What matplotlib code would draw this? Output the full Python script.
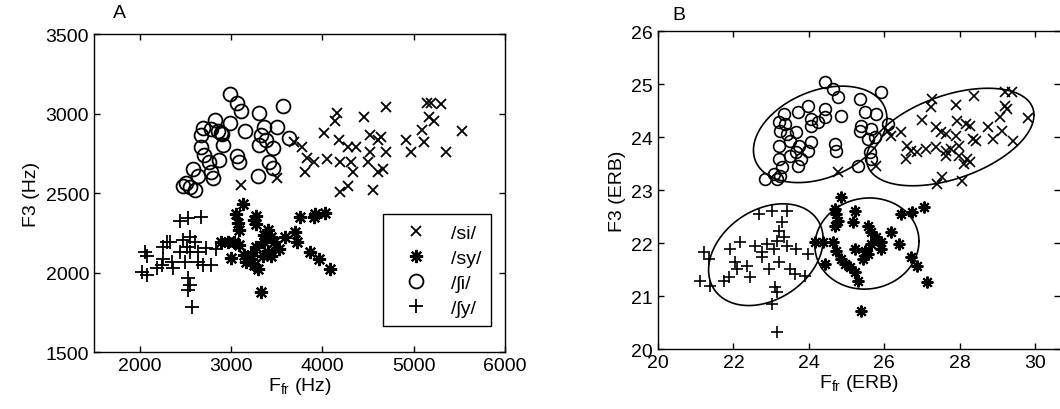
import numpy as np
import matplotlib
matplotlib.use("Agg")
import matplotlib.pyplot as plt

plt.rcParams["font.family"] = ["Liberation Sans", "DejaVu Sans"]
plt.rcParams["mathtext.fontset"] = "custom"
plt.rcParams["mathtext.rm"] = "Liberation Sans"
plt.rcParams["mathtext.it"] = "Liberation Sans"

# ---- Panel A data (Hz) ----
si_a_x = [4165, 4142, 4453, 4697, 5141, 5186, 5297, 5164, 5219, 5086, 5530, 4020,
          4187, 4276, 4364, 4520, 4609, 4642, 4919, 5108, 4697, 4975, 5352, 4520,
          3687, 3776, 3832, 3909, 4054, 4198, 4309, 4331, 4498, 4609, 4664, 3809,
          3499, 3110, 4198, 4276, 4553]
si_a_y = [3006, 2950, 2975, 3044, 3063, 3069, 3057, 2981, 2950, 2899, 2887, 2880,
          2836, 2792, 2792, 2868, 2836, 2855, 2836, 2818, 2755, 2761, 2761, 2761,
          2818, 2792, 2723, 2692, 2711, 2692, 2698, 2635, 2692, 2635, 2648, 2635,
          2597, 2553, 2509, 2541, 2516]

sy_a_x = [3132, 3055, 3077, 3088, 3276, 3276, 3254, 3410, 3443, 3476, 3365, 3410,
          3354, 3443, 3521, 2888, 2966, 3032, 3088, 2999, 3143, 3165, 3221, 3254,
          3299, 3276, 3698, 3720, 3754, 3909, 3920, 4031, 3865, 3965, 4087, 3332,
          3587, 3365, 3221]
sy_a_y = [2428, 2365, 2314, 2270, 2358, 2302, 2333, 2270, 2226, 2189, 2189, 2132,
          2101, 2101, 2145, 2195, 2195, 2189, 2176, 2094, 2113, 2069, 2082, 2050,
          2019, 2163, 2252, 2195, 2346, 2346, 2365, 2377, 2126, 2082, 2019, 1880,
          2226, 2239, 2113]

shi_a_x = [2988, 3065, 3110, 3565, 3310, 2821, 2988, 3155, 3365, 3500, 2688, 2666,
           2777, 2888, 3332, 3388, 3310, 3465, 3632, 2910, 2666, 2700, 2866, 2755,
           3065, 3088, 3420, 3465, 2588, 2777, 2644, 2800, 3300, 2477, 2555, 2610,
           2510, 2860, 2900]
shi_a_y = [3120, 3063, 3013, 3050, 3006, 2962, 2943, 2887, 2918, 2918, 2912, 2868,
           2900, 2880, 2868, 2836, 2805, 2786, 2843, 2805, 2792, 2742, 2710, 2692,
           2730, 2698, 2692, 2660, 2648, 2635, 2604, 2597, 2604, 2541, 2535, 2522,
           2566, 2890, 2870]

shy_a_x = [2444, 2533, 2666, 2300, 2255, 2056, 2078, 2022, 2078, 2189, 2244, 2255,
           2355, 2366, 2477, 2555, 2611, 2522, 2555, 2644, 2722, 2444, 2500, 2644,
           2688, 2777, 2833, 2533, 2555, 2533, 2577, 2333]
shy_a_y = [2321, 2340, 2352, 2189, 2163, 2132, 2101, 2006, 1987, 2031, 2050, 2082,
           2069, 2031, 2207, 2226, 2189, 2163, 2132, 2126, 2157, 2132, 2063, 2069,
           2050, 2050, 2145, 1968, 1924, 1893, 1786, 2195]

# ---- Panel B data (ERB) ----
shi_b_x = [24.42, 24.64, 24.77, 25.92, 25.36, 24.85, 24.42, 23.97, 23.70, 23.35,
           23.22, 24.05, 24.05, 24.24, 24.42, 25.50, 25.79, 25.39, 25.36, 25.66,
           25.76, 25.58, 23.24, 23.43, 23.65, 23.51, 23.22, 23.75, 24.05, 23.97,
           23.65, 24.69, 24.72, 23.51, 23.78, 23.70, 23.22, 23.30, 23.08, 22.84,
           23.16, 23.24, 25.31, 25.63, 25.66, 26.11, 23.38]
shi_b_y = [25.04, 24.91, 24.75, 24.85, 24.72, 24.40, 24.53, 24.58, 24.47, 24.43,
           24.28, 24.34, 24.21, 24.28, 24.38, 24.47, 24.43, 24.21, 24.11, 24.15,
           24.00, 23.96, 24.11, 24.06, 24.09, 23.92, 23.83, 23.83, 23.91, 23.74,
           23.72, 23.87, 23.74, 23.64, 23.58, 23.45, 23.58, 23.43, 23.30, 23.21,
           23.21, 23.26, 23.45, 23.72, 23.58, 24.25, 24.25]

si_b_x = [27.27, 27.24, 27.91, 28.39, 29.20, 29.38, 29.20, 29.25, 29.06, 29.81,
          27.00, 27.37, 27.94, 28.18, 28.26, 28.74, 29.12, 27.51, 27.64, 28.34,
          28.44, 28.87, 27.91, 27.99, 27.77, 27.64, 27.37, 27.10, 26.60, 26.70,
          26.86, 26.57, 27.64, 27.99, 28.20, 28.26, 28.12, 29.41, 26.11, 26.19,
          26.43, 27.40, 27.53, 28.07, 24.77, 25.79]
si_b_y = [24.72, 24.57, 24.60, 24.77, 24.85, 24.85, 24.58, 24.53, 24.38, 24.36,
          24.32, 24.19, 24.30, 24.25, 24.21, 24.19, 24.11, 24.09, 24.06, 23.96,
          23.92, 23.96, 24.02, 23.83, 23.77, 23.74, 23.81, 23.77, 23.83, 23.74,
          23.72, 23.58, 23.64, 23.64, 23.58, 23.53, 23.49, 23.92, 24.11, 24.02,
          24.09, 23.11, 23.25, 23.17, 23.34, 23.45]

sy_b_x = [24.85, 24.69, 24.72, 24.77, 24.69, 25.23, 25.17, 24.16, 24.37, 24.64,
          24.42, 24.72, 25.23, 24.85, 24.96, 25.09, 25.23, 25.31, 25.44, 25.50,
          25.58, 25.66, 25.79, 25.66, 25.90, 25.58, 26.19, 26.38, 26.43, 26.73,
          27.05, 26.70, 26.86, 27.13, 25.39, 25.90]
sy_b_y = [22.87, 22.64, 22.55, 22.42, 22.32, 22.60, 22.40, 22.02, 22.02, 22.02,
          21.60, 21.85, 21.89, 21.70, 21.60, 21.55, 21.45, 21.28, 21.70, 21.85,
          22.32, 22.21, 22.11, 21.98, 22.02, 21.79, 22.21, 21.98, 22.55, 22.58,
          22.68, 21.74, 21.57, 21.26, 20.72, 21.89]

shy_b_x = [21.10, 21.37, 21.21, 21.34, 21.74, 21.88, 21.90, 22.04, 22.09, 22.17,
           22.36, 22.44, 22.68, 23.03, 23.43, 22.90, 22.76, 22.76, 22.95, 23.08,
           23.16, 23.22, 23.35, 23.43, 23.22, 23.51, 23.62, 23.65, 23.97, 23.89,
           23.11, 23.16, 23.03, 23.16, 23.30, 22.57]
shy_b_y = [21.28, 21.19, 21.83, 21.70, 21.28, 21.36, 21.89, 21.64, 21.51, 22.02,
           21.57, 21.36, 22.55, 22.60, 22.60, 21.98, 21.83, 21.74, 21.51, 21.89,
           22.04, 22.23, 22.11, 21.94, 21.64, 21.51, 21.42, 21.89, 21.79, 21.38,
           21.17, 21.08, 20.85, 20.32, 22.40, 21.94]

# ellipses in panel B: centre, half extents and correlation (/ʃi/, /si/, /ʃy/, /sy/)
ell_cx = [24.30, 27.75, 22.86, 25.54]
ell_cy = [24.05, 24.00, 21.78, 21.99]
ell_sx = [1.77, 2.22, 1.52, 1.38]
ell_sy = [0.91, 0.92, 0.96, 0.86]
ell_rho = [0.33, 0.45, 0.30, 0.05]

labels = ["/si/", "/sy/", "/\u0283i/", "/\u0283y/"]

fs = 14

fig = plt.figure(figsize=(10.6, 4.1), dpi=100)
axA = fig.add_axes([0.0887, 0.139, 0.3877, 0.7756])
axB = fig.add_axes([0.6208, 0.1463, 0.3792, 0.7756])

star = (8, 2, 0)
kw_x = dict(marker="x", ms=7.5, mew=1.3)
kw_s = dict(marker=star, ms=9.5, mew=1.6)
kw_o = dict(marker="o", ms=10, mew=1.3, mfc="none")
kw_p = dict(marker="+", ms=10, mew=1.3)

axA.plot(si_a_x, si_a_y, ls="none", color="k", label=labels[0], **kw_x)
axA.plot(sy_a_x, sy_a_y, ls="none", color="k", label=labels[1], **kw_s)
axA.plot(shi_a_x, shi_a_y, ls="none", color="k", label=labels[2], **kw_o)
axA.plot(shy_a_x, shy_a_y, ls="none", color="k", label=labels[3], **kw_p)

axA.set_xlim(1500, 6000)
axA.set_ylim(1500, 3500)
axA.set_xticks([2000, 3000, 4000, 5000, 6000])
axA.set_yticks([1500, 2000, 2500, 3000, 3500])
axA.set_xlabel("F$_{\\mathrm{fr}}$ (Hz)", fontsize=fs, labelpad=1)
axA.set_ylabel("F3 (Hz)", fontsize=fs, labelpad=4)
leg = axA.legend(loc="lower right", bbox_to_anchor=(0.99, 0.05), fontsize=fs,
                 frameon=True, fancybox=False, edgecolor="k", framealpha=1,
                 handletextpad=0.6, labelspacing=0.38, borderpad=0.5,
                 handlelength=2.4)
leg.get_frame().set_linewidth(1.0)
axA.text(0.045, 1.04, "A", transform=axA.transAxes, fontsize=fs, va="bottom")

kwb_x = dict(marker="x", ms=6.5, mew=1.2)
kwb_s = dict(marker=star, ms=8.5, mew=1.5)
kwb_o = dict(marker="o", ms=8.5, mew=1.2, mfc="none")
kwb_p = dict(marker="+", ms=9, mew=1.2)

axB.plot(si_b_x, si_b_y, ls="none", color="k", **kwb_x)
axB.plot(sy_b_x, sy_b_y, ls="none", color="k", **kwb_s)
axB.plot(shi_b_x, shi_b_y, ls="none", color="k", **kwb_o)
axB.plot(shy_b_x, shy_b_y, ls="none", color="k", **kwb_p)

t = np.linspace(0, 2 * np.pi, 300)
for cx, cy, sx, sy, r in zip(ell_cx, ell_cy, ell_sx, ell_sy, ell_rho):
    ex = cx + sx * np.cos(t)
    ey = cy + sy * (r * np.cos(t) + np.sqrt(1 - r ** 2) * np.sin(t))
    axB.plot(ex, ey, color="k", lw=1.2)

axB.set_xlim(20, 30.66)
axB.set_ylim(20, 26)
axB.set_xticks([20, 22, 24, 26, 28, 30])
axB.set_yticks([20, 21, 22, 23, 24, 25, 26])
axB.set_xlabel("F$_{\\mathrm{fr}}$ (ERB)", fontsize=fs, labelpad=1)
axB.set_ylabel("F3 (ERB)", fontsize=fs, labelpad=4)
axB.spines["right"].set_visible(False)
axB.text(0.035, 1.025, "B", transform=axB.transAxes, fontsize=fs, va="bottom")

for ax in (axA, axB):
    ax.tick_params(direction="in", top=True, right=True, labelsize=fs,
                   length=4, width=1)
    for s in ax.spines.values():
        s.set_linewidth(1.0)

fig.savefig("out.png", dpi=100)
